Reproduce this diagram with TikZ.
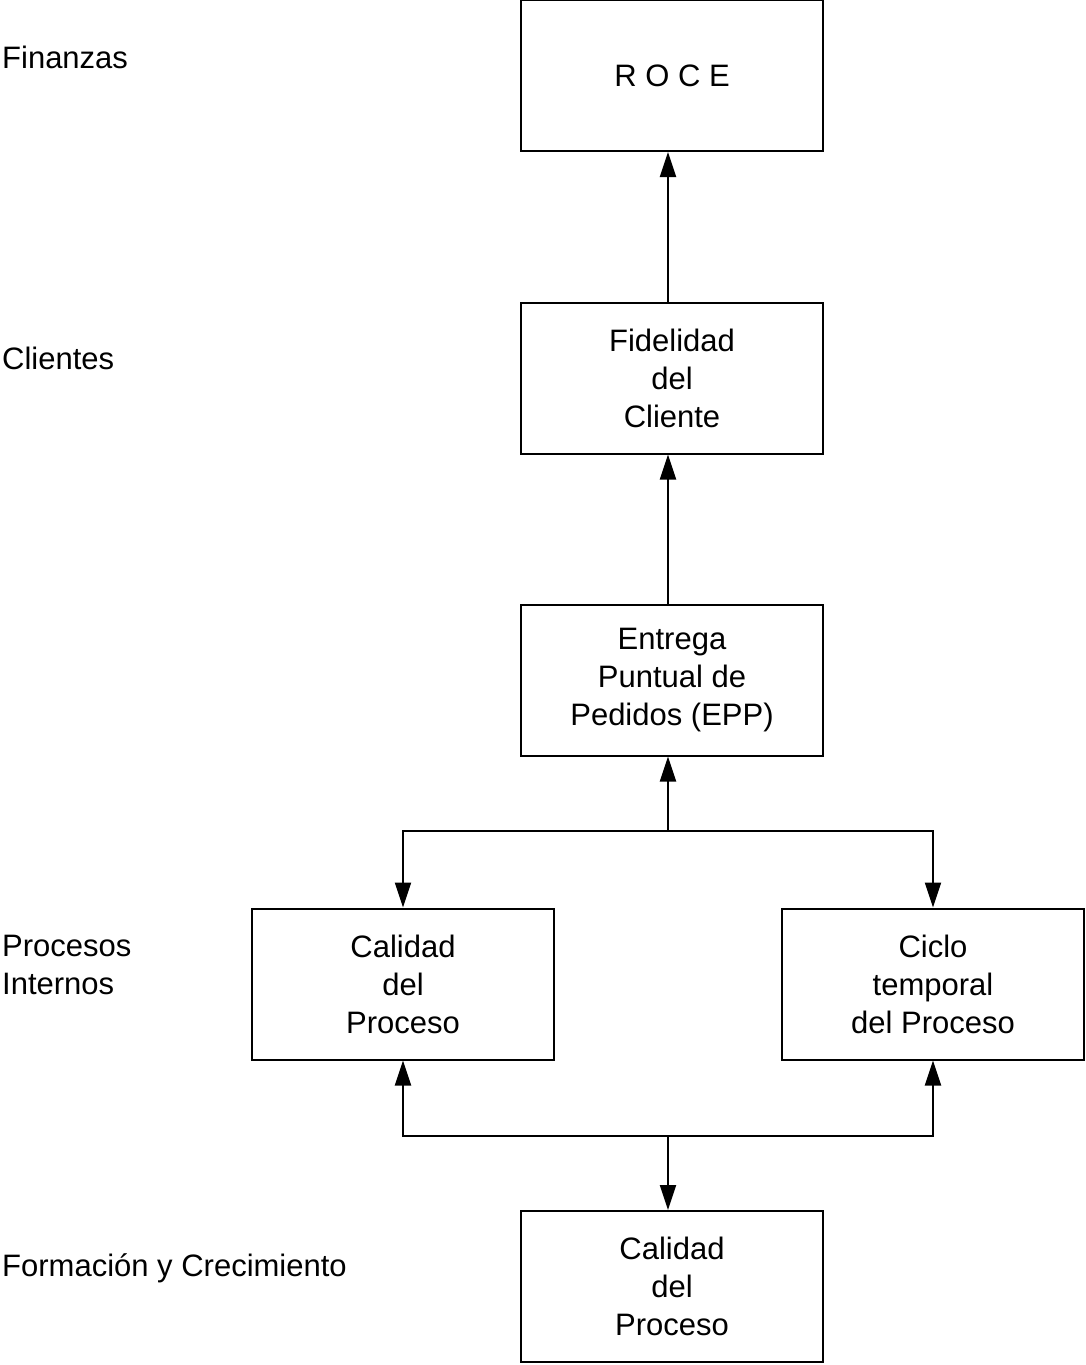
\documentclass[tikz,border=0pt]{standalone}
\usepackage{fontspec}
\setmainfont{Liberation Sans}
\usetikzlibrary{arrows.meta}
\begin{document}
\begin{tikzpicture}[x=1pt,y=-1pt,
  box/.style={draw, line width=2pt, minimum width=302pt, minimum height=151pt, align=center, inner sep=0pt, font=\fontsize{31}{38}\selectfont},
  lbl/.style={anchor=west, inner sep=0pt, align=left, font=\fontsize{31}{38}\selectfont},
  conn/.style={line width=2pt, line cap=rect},
  arr/.style={line width=2pt, -{Triangle[length=25pt,width=16pt]}}]
\useasboundingbox (0,0) rectangle (1085,1365);
\node[box] (roce) at (672,75.5) {R O C E};
\node[box] (fid) at (672,378) {Fidelidad\\del\\Cliente};
\node[box] (epp) at (672,680) {Entrega\\Puntual de\\Pedidos (EPP)};
\node[box] (cal) at (403,984) {Calidad\\del\\Proceso};
\node[box] (cic) at (933,984) {Ciclo\\temporal\\del Proceso};
\node[box] (form) at (672,1286.5) {Calidad\\del\\Proceso};
\node[lbl] (l1) at (2,57) {Finanzas};
\node[lbl] (l2) at (2,358) {Clientes};
\node[lbl] (l3) at (2,965) {Procesos\\Internos};
\node[lbl] (l4) at (2,1268) {Formación y Crecimiento};
\coordinate (j1) at (668,831);
\coordinate (j2) at (668,1136);
\draw[arr] ([xshift=-4pt]fid.north) -- ([xshift=-4pt]roce.south);
\draw[arr] ([xshift=-4pt]epp.north) -- ([xshift=-4pt]fid.south);
\draw[arr] (j1) -- (j1 |- epp.south);
\draw[conn] (cal.north |- j1) -- (cic.north |- j1);
\draw[arr] (cal.north |- j1) -- (cal.north);
\draw[arr] (cic.north |- j1) -- (cic.north);
\draw[conn] (cal.south |- j2) -- (cic.south |- j2);
\draw[arr] (cal.south |- j2) -- (cal.south);
\draw[arr] (cic.south |- j2) -- (cic.south);
\draw[arr] (j2) -- (j2 |- form.north);
\end{tikzpicture}
\end{document}
